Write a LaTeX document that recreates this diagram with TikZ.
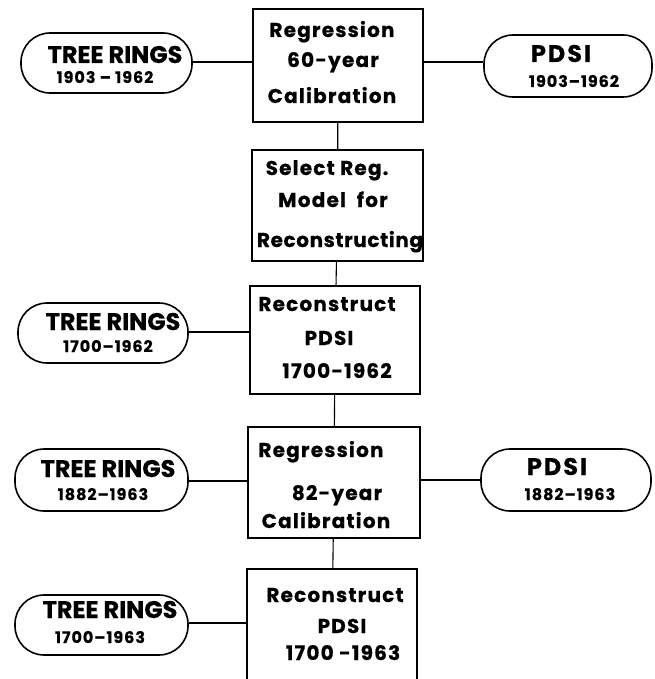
\documentclass[tikz,border=0pt]{standalone}
\usepackage{fontspec}
\setmainfont{Poppins}
\begin{document}
\begin{tikzpicture}[x=1pt,y=-1pt,
  box/.style={draw, line width=1.6pt, rectangle, inner sep=0pt, minimum width=170pt},
  pill/.style={draw, line width=1.6pt, rounded corners=29pt, inner sep=0pt, minimum width=171pt, minimum height=60pt},
  conn/.style={line width=1.1pt},
  btxt/.style={inner sep=0pt, anchor=base, font=\bfseries\fontsize{20}{22}\selectfont\addfontfeatures{LetterSpace=6,FakeBold=0.6}},
  btxtn/.style={btxt, font=\bfseries\fontsize{20}{22}\selectfont\addfontfeatures{LetterSpace=3,FakeBold=0.6}},
  ptitle/.style={inner sep=0pt, anchor=base, font=\bfseries\fontsize{24}{26}\selectfont\addfontfeatures{FakeBold=0.4}},
  pwide/.style={ptitle, font=\bfseries\fontsize{24}{26}\selectfont\addfontfeatures{LetterSpace=8,FakeBold=0.4}},
  pdate/.style={inner sep=0pt, anchor=base, font=\bfseries\fontsize{16}{18}\selectfont\addfontfeatures{LetterSpace=6,FakeBold=0.4}}
]
\useasboundingbox (0,0) rectangle (654,679);

% boxes
\node[box, minimum height=113pt] (b1) at (338,65.5) {};
\node[box, minimum width=171pt, minimum height=111pt] (b2) at (337.5,205.5) {};
\node[box, minimum height=108pt] (b3) at (335,340) {};
\node[box, minimum width=172pt, minimum height=111pt] (b4) at (334,482.5) {};
\node[box, minimum height=121pt] (b5) at (332,629.5) {};

% pills
\node[pill] (p1) at (106.5,63) {};
\node[pill, minimum width=168pt, minimum height=62pt] (p2) at (568,66) {};
\node[pill, minimum width=170pt] (p3) at (103,333) {};
\node[pill, minimum width=173pt, minimum height=62pt] (p4) at (101.5,480) {};
\node[pill, minimum width=170pt, minimum height=62pt] (p5) at (566,480) {};
\node[pill, minimum width=173pt] (p6) at (101.5,625) {};

% box texts
\node[btxt] (t1a) at (332,37) {Regression};
\node[btxt] (t1b) at (333,67) {60-year};
\node[btxt] (t1c) at (332,103) {Calibration};
\node[btxt] (t2a) at (327,175) {Select Reg.};
\node[btxt] (t2b) at (333,207) {Model\ \ for};
\node[btxtn] (t2c) at (340,247) {Reconstructing};
\node[btxt] (t3a) at (327,311) {Reconstruct};
\node[btxt] (t3b) at (329,345) {PDSI};
\node[btxt] (t3c) at (337,378) {1700-1962};
\node[btxt] (t4a) at (321,457) {Regression};
\node[btxt] (t4b) at (337,500) {82-year};
\node[btxt] (t4c) at (326,528) {Calibration};
\node[btxt] (t5a) at (335,602) {Reconstruct};
\node[btxt] (t5b) at (342,633) {PDSI};
\node[btxt] (t5c) at (343,660) {1700 -1963};

% pill texts
\node[ptitle] (q1a) at (115,63) {TREE RINGS};
\node[pdate] (q1b) at (105,83) {1903 – 1962};
\node[pwide] (q2a) at (561,62) {PDSI};
\node[pdate] (q2b) at (574,87) {1903–1962};
\node[ptitle] (q3a) at (113,330) {TREE RINGS};
\node[pdate] (q3b) at (108,352) {1700–1962};
\node[ptitle] (q4a) at (108,477) {TREE RINGS};
\node[pdate] (q4b) at (103,500) {1882–1963};
\node[pwide] (q5a) at (557,475) {PDSI};
\node[pdate] (q5b) at (570,500) {1882–1963};
\node[ptitle] (q6a) at (110,618) {TREE RINGS};
\node[pdate] (q6b) at (100,643) {1700–1963};

% connectors
\draw[conn] (p1.east |- 0,62) -- (b1.west |- 0,62);
\draw[conn] (b1.east |- 0,62) -- (p2.west |- 0,62);
\draw[conn] (b1) -- (b2);
\draw[conn] (b2) -- (b3);
\draw[conn] (p3.east |- 0,332) -- (b3.west |- 0,332);
\draw[conn] (b3) -- (b4);
\draw[conn] (p4.east |- 0,481) -- (b4.west |- 0,481);
\draw[conn] (b4.east |- 0,480) -- (p5.west |- 0,480);
\draw[conn] (b4) -- (b5);
\draw[conn] (p6.east |- 0,623) -- (b5.west |- 0,623);
\end{tikzpicture}
\end{document}
